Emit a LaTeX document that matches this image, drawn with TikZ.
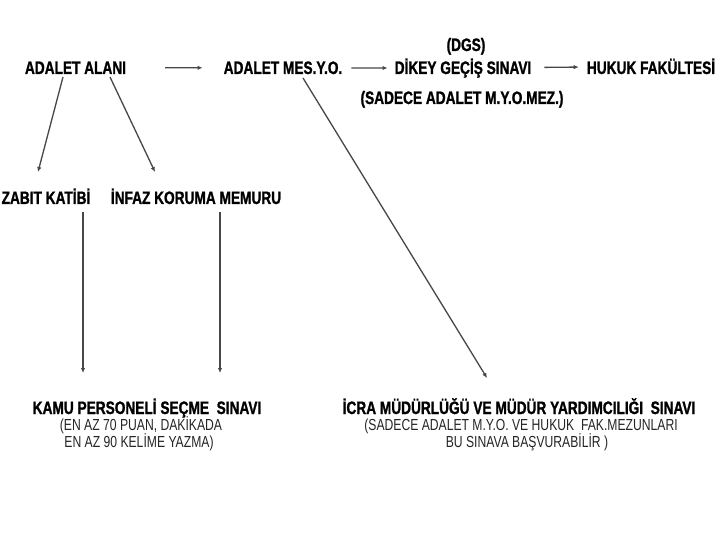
\documentclass[tikz,border=0pt]{standalone}
\usepackage{fontspec}
\setmainfont{Liberation Sans}
\newfontfamily\nboldfont{Liberation Sans}[FakeStretch=0.76,FakeBold=1.2]
\newfontfamily\nregfont{Liberation Sans}[FakeStretch=0.76]
\usetikzlibrary{arrows.meta,calc}
\tikzset{
  ttl/.style={inner sep=0pt, anchor=base, font=\nboldfont\bfseries\fontsize{18}{20}\selectfont, text=black},
  sub/.style={inner sep=0pt, anchor=base, font=\nregfont\fontsize{16}{18}\selectfont, text=black!85},
  arr/.style={draw=black!72, line width=1.3pt, -{Latex[length=5pt,width=4.5pt]}},
}
\begin{document}
\begin{tikzpicture}[x=1pt,y=-1pt]
\useasboundingbox (0,0) rectangle (720,540);
\fill[white] (0,0) rectangle (720,540);
% top row
\node[ttl] (alani) at (75.5,74) {ADALET ALANI};
\node[ttl] (mes) at (283,74) {ADALET MES.Y.O.};
\node[ttl] (dgs) at (466,51) {(DGS)};
\node[ttl] (dikey) at (463,74) {DİKEY GEÇİŞ SINAVI};
\node[ttl] (hukuk) at (651,74) {HUKUK FAKÜLTESİ};
\node[ttl] (sadece) at (462,104) {(SADECE ADALET M.Y.O.MEZ.)};
% middle row
\node[ttl] (zabit) at (46,204) {ZABIT KATİBİ};
\node[ttl] (infaz) at (196,204) {İNFAZ KORUMA MEMURU};
% bottom
\node[ttl] (kamu) at (147,414) {KAMU PERSONELİ SEÇME~ SINAVI};
\node[sub] (kamu2) at (141,430) {(EN AZ 70 PUAN, DAKİKADA};
\node[sub] (kamu3) at (139,447) {EN AZ 90 KELİME YAZMA)};
\node[ttl] (icra) at (519,414) {İCRA MÜDÜRLÜĞÜ VE MÜDÜR YARDIMCILIĞI~ SINAVI};
\node[sub] (icra2) at (521,430) {(SADECE ADALET M.Y.O. VE HUKUK~ FAK.MEZUNLARI};
\node[sub] (icra3) at (527,447) {BU SINAVA BAŞVURABİLİR )};
% connectors
\draw[arr, shorten <=39pt, shorten >=21pt] (alani) -- (mes);
\draw[arr, shorten <=9pt, shorten >=7pt] (mes) -- (dikey);
\draw[arr, shorten <=13pt, shorten >=8pt] (dikey) -- (hukuk);
\draw[arr] ($(alani.base)+(-12.5,3)$) -- ($(zabit.base)+(-8,-32)$);
\draw[arr] ($(alani.base)+(34.5,3)$) -- ($(infaz.base)+(-41,-32)$);
\draw[arr] ($(zabit.base)+(37,8)$) -- ($(kamu.base)+(-64,-41)$);
\draw[arr] ($(infaz.base)+(24,8)$) -- ($(kamu.base)+(73,-41)$);
\draw[arr] ($(mes.base)+(20,4)$) -- ($(icra.base)+(-32,-36)$);
\end{tikzpicture}
\end{document}
